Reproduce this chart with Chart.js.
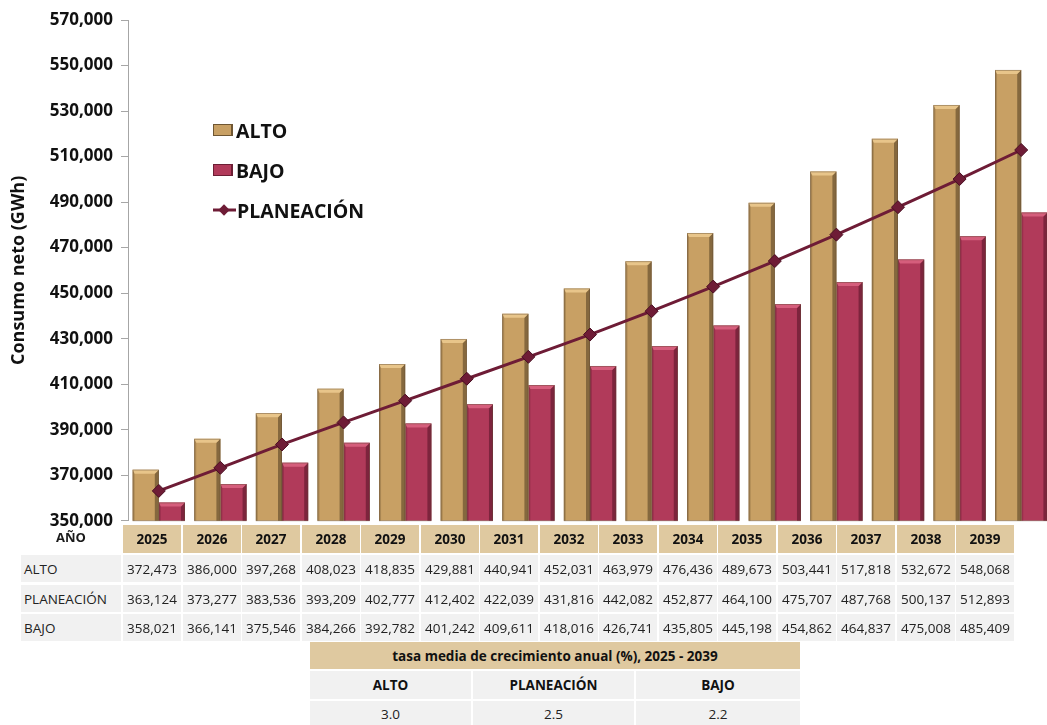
<!DOCTYPE html>
<html>
<head>
<meta charset="utf-8">
<script src="https://cdn.jsdelivr.net/npm/chart.js@4"></script>
<style>
  html, body { margin:0; padding:0; background:#fff; overflow:hidden; width:1047px; height:725px; }
  body { position:relative; font-family:"Open Sans", "Noto Sans", sans-serif; color:#1a1a1a; }
  #wrap { position:absolute; left:0; top:0; width:1080px; height:539px; }
  .cell { position:absolute; box-sizing:border-box; display:flex; align-items:center; justify-content:center; font-size:13.5px; white-space:nowrap; }
  .hdr { background:#DFC9A0; font-weight:bold; color:#111; }
  .dat { background:#F1F1F1; color:#222; }
  .lab { justify-content:flex-start; padding-left:3px; }
  .leg { position:absolute; display:flex; align-items:center; font-weight:bold; font-size:19.5px; color:#111; }
  .sw { width:20px; height:12px; margin-right:3px; box-sizing:border-box; }
</style>
</head>
<body>
<div id="wrap"><canvas id="c" width="1080" height="539"></canvas></div>
<div id="legend"></div>
<div id="table"></div>
<script>
// ---- data ----
const years = ["2025","2026","2027","2028","2029","2030","2031","2032","2033","2034","2035","2036","2037","2038","2039"];
const alto = [372473,386000,397268,408023,418835,429881,440941,452031,463979,476436,489673,503441,517818,532672,548068];
const planeacion = [363124,373277,383536,393209,402777,412402,422039,431816,442082,452877,464100,475707,487768,500137,512893];
const bajo = [358021,366141,375546,384266,392782,401242,409611,418016,426741,435805,445198,454862,464837,475008,485409];
const seriesNames = ["ALTO","PLANEACIÓN","BAJO"];
const growthTitle = "tasa media de crecimiento anual (%), 2025 - 2039";
const growthValues = ["3.0","2.5","2.2"];
const yAxisTitle = "Consumo neto (GWh)";

const GOLD = "#C8A064", GOLD_D = "#6F5632", GOLD_L = "#EBC98E";
const RED = "#B13A5A", RED_D = "#6C1E34", RED_L = "#D9637F";
const LINE = "#6E1C36";

const fmt = v => v.toLocaleString("en-US");

// bevel plugin
const bevel = {
  id: "bevel",
  afterDatasetDraw(chart, args) {
    const ds = chart.data.datasets[args.index];
    if (ds.type !== "bar") return;
    const ctx = chart.ctx;
    const dark = ds._dark, light = ds._light;
    const bottom = chart.chartArea.bottom;
    ctx.save();
    args.meta.data.forEach(el => {
      const w = el.width, x0 = el.x - w/2, x1 = el.x + w/2, top = el.y, bot = Math.min(el.base, bottom);
      const b = 4;
      ctx.fillStyle = dark;
      ctx.globalAlpha = 0.75;
      ctx.beginPath(); ctx.moveTo(x1, top); ctx.lineTo(x1, bot); ctx.lineTo(x1-b, bot); ctx.lineTo(x1-b, top+b); ctx.closePath(); ctx.fill();
      ctx.globalAlpha = 0.35;
      ctx.beginPath(); ctx.moveTo(x0, top); ctx.lineTo(x0+2, top+2); ctx.lineTo(x0+2, bot); ctx.lineTo(x0, bot); ctx.closePath(); ctx.fill();
      ctx.globalAlpha = 0.9;
      ctx.fillStyle = light;
      ctx.beginPath(); ctx.moveTo(x0, top); ctx.lineTo(x1, top); ctx.lineTo(x1-b, top+b); ctx.lineTo(x0+2, top+b); ctx.closePath(); ctx.fill();
      ctx.globalAlpha = 1;
      ctx.strokeStyle = "rgba(90,70,50,0.5)"; ctx.lineWidth = 0.8;
      ctx.strokeRect(x0+0.4, top+0.4, w-0.8, bot-top-0.4);
    });
    ctx.restore();
  }
};

new Chart(document.getElementById("c"), {
  data: {
    labels: years,
    datasets: [
      { type:"line", label:seriesNames[1], data:planeacion, borderColor:LINE, backgroundColor:LINE, borderWidth:3,
        pointStyle:"rectRot", pointRadius:6.5, pointBorderWidth:1, pointBorderColor:"#4a0f22", pointBackgroundColor:LINE, order:0, tension:0 },
      { type:"bar", label:seriesNames[0], data:alto, backgroundColor:GOLD, _dark:GOLD_D, _light:GOLD_L, order:1,
        categoryPercentage:0.85, barPercentage:1.0 },
      { type:"bar", label:seriesNames[2], data:bajo, backgroundColor:RED, _dark:RED_D, _light:RED_L, order:1,
        categoryPercentage:0.85, barPercentage:1.0 }
    ]
  },
  options: {
    responsive:false, animation:false,
    layout:{ padding:{ top:20, right:28, bottom:12, left:8 } },
    plugins:{ legend:{display:false}, tooltip:{enabled:false} },
    scales:{
      x:{ display:false, offset:true },
      y:{
        min:350000, max:570000,
        afterFit(s){ s.width = 120; },
        ticks:{ stepSize:20000, callback:v=>fmt(v), font:{family:"Open Sans", size:17, weight:"bold"}, color:"#111", padding:8 },
        grid:{ drawOnChartArea:false, drawTicks:true, tickLength:7, color:"#A6A6A6" },
        border:{ color:"#A6A6A6", width:1 },
        title:{ display:true, text:yAxisTitle, font:{family:"Open Sans", size:18, weight:"bold"}, color:"#111", padding:{top:0,bottom:0} }
      }
    }
  },
  plugins:[bevel]
});

// legend (HTML)
const legend = document.getElementById("legend");
const legItems = [
  {name:seriesNames[0], kind:"bar", c:GOLD, d:GOLD_D, top:118},
  {name:seriesNames[2], kind:"bar", c:RED, d:RED_D, top:158},
  {name:seriesNames[1], kind:"line", c:LINE, top:198}
];
legItems.forEach(it => {
  const d = document.createElement("div");
  d.className = "leg"; d.style.left = "213px"; d.style.top = it.top + "px"; d.style.height = "24px";
  let sw;
  if (it.kind === "bar") {
    sw = `<div class="sw" style="background:${it.c};border:1px solid ${it.d};border-right-width:2px"></div>`;
  } else {
    sw = `<svg width="23" height="14" style="margin-right:1px"><line x1="0" y1="7" x2="23" y2="7" stroke="${it.c}" stroke-width="3"/><rect x="7" y="3" width="8" height="8" fill="${it.c}" transform="rotate(45 11 7)"/></svg>`;
  }
  d.innerHTML = sw + `<span>${it.name}</span>`;
  legend.appendChild(d);
});

// data table (HTML)
const T = document.getElementById("table");
function cell(x, y, w, h, cls, text, extra) {
  const d = document.createElement("div");
  d.className = "cell " + cls;
  d.style.left = x + "px"; d.style.top = y + "px"; d.style.width = w + "px"; d.style.height = h + "px";
  if (extra) Object.assign(d.style, extra);
  d.textContent = text;
  T.appendChild(d);
}
const colX0 = 123, colW = 58, colStep = 59.5;
cell(21, 528, 100, 20, "", "AÑO", {fontWeight:"bold", fontSize:"13px", alignItems:"flex-start"});
years.forEach((yr, i) => cell(Math.round(colX0 + i*colStep), 525, colW, 28, "hdr", yr));
const rows = [[seriesNames[0], alto],[seriesNames[1], planeacion],[seriesNames[2], bajo]];
const rowY = [555, 585, 614];
rows.forEach((r, j) => {
  cell(21, rowY[j], 100, 27, "dat lab", r[0]);
  r[1].forEach((v, i) => cell(Math.round(colX0 + i*colStep), rowY[j], colW, 27, "dat", fmt(v)));
});
// growth table
cell(310, 642, 490, 27, "hdr", growthTitle);
const gx = [310, 473, 636], gw = [161, 161, 164];
seriesNames.forEach((n, i) => cell(gx[i], 671, gw[i], 28, "dat", n, {fontWeight:"bold", color:"#111"}));
growthValues.forEach((v, i) => cell(gx[i], 701, gw[i], 26, "dat", v));
</script>
</body>
</html>
